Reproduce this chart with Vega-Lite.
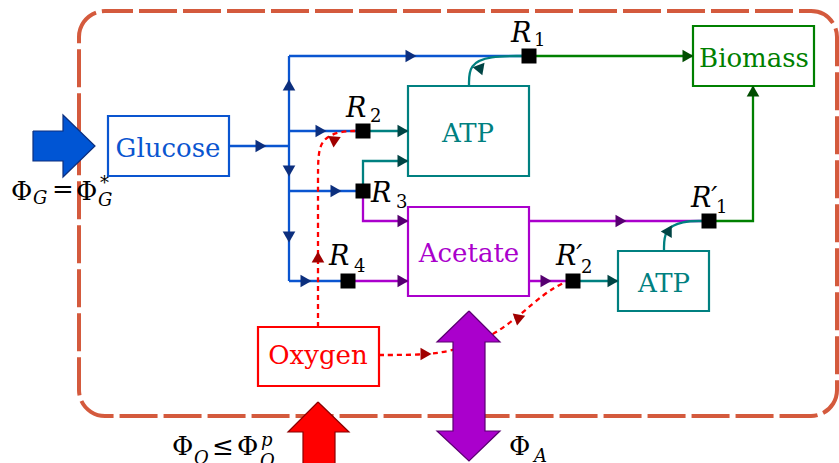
{
  "$schema": "https://vega.github.io/schema/vega-lite/v6.json",
  "width": 839,
  "height": 463,
  "autosize": {"type": "none"},
  "padding": 0,
  "background": "white",
  "config": {"view": {"stroke": null}},
  "datasets": {
    "border": [{"x": 79, "x2": 837, "y": 11, "y2": 416}],
    "boxes": [
      {"t": "Glucose", "c": "glucose", "x": 108, "x2": 229, "y": 116, "y2": 176, "cx": 168, "by": 157},
      {"t": "ATP", "c": "atp", "x": 408, "x2": 529, "y": 86, "y2": 176, "cx": 468, "by": 142},
      {"t": "Biomass", "c": "biomass", "x": 693, "x2": 814, "y": 26, "y2": 86, "cx": 754, "by": 67},
      {"t": "Acetate", "c": "acetate", "x": 408, "x2": 529, "y": 207, "y2": 296, "cx": 469, "by": 262},
      {"t": "ATP", "c": "atp", "x": 618, "x2": 709, "y": 251, "y2": 311, "cx": 664, "by": 292},
      {"t": "Oxygen", "c": "oxygen", "x": 258, "x2": 379, "y": 327, "y2": 386, "cx": 318, "by": 364}
    ],
    "lines": [
      {"id": "B1", "c": "glucose", "o": 1, "x": 229, "y": 146}, {"id": "B1", "c": "glucose", "o": 2, "x": 289, "y": 146},
      {"id": "B2", "c": "glucose", "o": 1, "x": 289, "y": 56}, {"id": "B2", "c": "glucose", "o": 2, "x": 289, "y": 281},
      {"id": "B3", "c": "glucose", "o": 1, "x": 289, "y": 56}, {"id": "B3", "c": "glucose", "o": 2, "x": 529, "y": 56},
      {"id": "B4", "c": "glucose", "o": 1, "x": 289, "y": 131}, {"id": "B4", "c": "glucose", "o": 2, "x": 363, "y": 131},
      {"id": "B5", "c": "glucose", "o": 1, "x": 289, "y": 191}, {"id": "B5", "c": "glucose", "o": 2, "x": 363, "y": 191},
      {"id": "B6", "c": "glucose", "o": 1, "x": 289, "y": 281}, {"id": "B6", "c": "glucose", "o": 2, "x": 348, "y": 281},
      {"id": "T1", "c": "atp", "o": 1, "x": 363, "y": 131}, {"id": "T1", "c": "atp", "o": 2, "x": 408, "y": 131},
      {"id": "T2", "c": "atp", "o": 1, "x": 363, "y": 191}, {"id": "T2", "c": "atp", "o": 2, "x": 363, "y": 161}, {"id": "T2", "c": "atp", "o": 3, "x": 408, "y": 161},
      {"id": "T4", "c": "atp", "o": 1, "x": 573, "y": 281}, {"id": "T4", "c": "atp", "o": 2, "x": 618, "y": 281},
      {"id": "G1", "c": "biomass", "o": 1, "x": 529, "y": 56}, {"id": "G1", "c": "biomass", "o": 2, "x": 693, "y": 56},
      {"id": "G2", "c": "biomass", "o": 1, "x": 709, "y": 221}, {"id": "G2", "c": "biomass", "o": 2, "x": 753, "y": 221}, {"id": "G2", "c": "biomass", "o": 3, "x": 753, "y": 86},
      {"id": "P1", "c": "acetate", "o": 1, "x": 363, "y": 191}, {"id": "P1", "c": "acetate", "o": 2, "x": 363, "y": 221}, {"id": "P1", "c": "acetate", "o": 3, "x": 408, "y": 221},
      {"id": "P2", "c": "acetate", "o": 1, "x": 348, "y": 281}, {"id": "P2", "c": "acetate", "o": 2, "x": 408, "y": 281},
      {"id": "P3", "c": "acetate", "o": 1, "x": 529, "y": 221}, {"id": "P3", "c": "acetate", "o": 2, "x": 709, "y": 221},
      {"id": "P4", "c": "acetate", "o": 1, "x": 529, "y": 281}, {"id": "P4", "c": "acetate", "o": 2, "x": 573, "y": 281}
    ],
    "curves": [
      {"id": "T3", "c": "atp", "o": 1, "x": 469, "y": 86}, {"id": "T3", "c": "atp", "o": 2, "x": 469, "y": 64}, {"id": "T3", "c": "atp", "o": 3, "x": 490, "y": 56}, {"id": "T3", "c": "atp", "o": 4, "x": 522, "y": 56},
      {"id": "T5", "c": "atp", "o": 1, "x": 664, "y": 251}, {"id": "T5", "c": "atp", "o": 2, "x": 664, "y": 229}, {"id": "T5", "c": "atp", "o": 3, "x": 683, "y": 221}, {"id": "T5", "c": "atp", "o": 4, "x": 702, "y": 221}
    ],
    "dotted": [
      {"id": "D1", "c": "oxygen", "o": 1, "x": 318, "y": 327}, {"id": "D1", "c": "oxygen", "o": 2, "x": 318, "y": 250}, {"id": "D1", "c": "oxygen", "o": 3, "x": 318, "y": 175}, {"id": "D1", "c": "oxygen", "o": 4, "x": 318, "y": 140}, {"id": "D1", "c": "oxygen", "o": 5, "x": 340, "y": 131}, {"id": "D1", "c": "oxygen", "o": 6, "x": 357, "y": 131},
      {"id": "D2", "c": "oxygen", "o": 1, "x": 379, "y": 355}, {"id": "D2", "c": "oxygen", "o": 2, "x": 420, "y": 355}, {"id": "D2", "c": "oxygen", "o": 3, "x": 450, "y": 352}, {"id": "D2", "c": "oxygen", "o": 4, "x": 490, "y": 338}, {"id": "D2", "c": "oxygen", "o": 5, "x": 520, "y": 315}, {"id": "D2", "c": "oxygen", "o": 6, "x": 545, "y": 293}, {"id": "D2", "c": "oxygen", "o": 7, "x": 563, "y": 283}, {"id": "D2", "c": "oxygen", "o": 8, "x": 567, "y": 282}
    ],
    "squares": [
      {"n": "R1", "x": 529, "y": 56}, {"n": "R2", "x": 363, "y": 131}, {"n": "R3", "x": 363, "y": 191},
      {"n": "R4", "x": 348, "y": 281}, {"n": "R1p", "x": 709, "y": 221}, {"n": "R2p", "x": 573, "y": 281}
    ],
    "heads": [
      {"x": 261, "y": 146, "a": 0, "c": "glucose_head"},
      {"x": 411, "y": 56, "a": 0, "c": "glucose_head"},
      {"x": 321, "y": 131, "a": 0, "c": "glucose_head"},
      {"x": 336, "y": 191, "a": 0, "c": "glucose_head"},
      {"x": 306, "y": 281, "a": 0, "c": "glucose_head"},
      {"x": 289, "y": 85, "a": 270, "c": "glucose_head"},
      {"x": 289, "y": 171, "a": 90, "c": "glucose_head"},
      {"x": 289, "y": 237, "a": 90, "c": "glucose_head"},
      {"x": 403, "y": 131, "a": 0, "c": "atp_head"},
      {"x": 403, "y": 161, "a": 0, "c": "atp_head"},
      {"x": 481, "y": 67, "a": 310, "c": "atp_head"},
      {"x": 613, "y": 281, "a": 0, "c": "atp_head"},
      {"x": 669, "y": 230, "a": 300, "c": "atp_head"},
      {"x": 688, "y": 56, "a": 0, "c": "biomass_head"},
      {"x": 753, "y": 91, "a": 270, "c": "biomass_head"},
      {"x": 403, "y": 221, "a": 0, "c": "acetate_head"},
      {"x": 403, "y": 281, "a": 0, "c": "acetate_head"},
      {"x": 621, "y": 221, "a": 0, "c": "acetate_head"},
      {"x": 546, "y": 281, "a": 0, "c": "acetate_head"},
      {"x": 318, "y": 257, "a": 270, "c": "oxygen_head"},
      {"x": 334, "y": 142, "a": 95, "c": "oxygen_head"},
      {"x": 426, "y": 354, "a": 0, "c": "oxygen_head"},
      {"x": 518, "y": 320, "a": 100, "c": "oxygen_head"}
    ],
    "math": [
      {"role": "R", "t": "R", "x": 511, "y": 42},
      {"role": "R", "t": "R", "x": 346, "y": 117},
      {"role": "R", "t": "R", "x": 371, "y": 202},
      {"role": "R", "t": "R", "x": 329, "y": 265},
      {"role": "R", "t": "R′", "x": 691, "y": 207},
      {"role": "R", "t": "R′", "x": 556, "y": 265},
      {"role": "idx", "t": "1", "x": 534, "y": 46},
      {"role": "idx", "t": "2", "x": 370, "y": 122},
      {"role": "idx", "t": "3", "x": 396, "y": 208},
      {"role": "idx", "t": "4", "x": 354, "y": 272},
      {"role": "idx", "t": "1", "x": 716, "y": 213},
      {"role": "idx", "t": "2", "x": 581, "y": 273},
      {"role": "sym", "t": "Φ", "x": 11, "y": 200},
      {"role": "sym", "t": "=", "x": 52, "y": 198},
      {"role": "sym", "t": "Φ", "x": 76, "y": 200},
      {"role": "sym", "t": "Φ", "x": 172, "y": 455},
      {"role": "sym", "t": "≤", "x": 212, "y": 455},
      {"role": "sym", "t": "Φ", "x": 237, "y": 455},
      {"role": "sym", "t": "Φ", "x": 509, "y": 455},
      {"role": "var", "t": "G", "x": 33, "y": 204},
      {"role": "var", "t": "*", "x": 100, "y": 189},
      {"role": "var", "t": "G", "x": 98, "y": 206},
      {"role": "var", "t": "O", "x": 194, "y": 464},
      {"role": "var", "t": "p", "x": 261, "y": 446},
      {"role": "var", "t": "O", "x": 260, "y": 467},
      {"role": "var", "t": "A", "x": 534, "y": 462}
    ],
    "bigarrows": [
      {"id": "glucose_in", "o": 1, "x": 33, "y": 131}, {"id": "glucose_in", "o": 2, "x": 63, "y": 131}, {"id": "glucose_in", "o": 3, "x": 63, "y": 115}, {"id": "glucose_in", "o": 4, "x": 95, "y": 146}, {"id": "glucose_in", "o": 5, "x": 63, "y": 177}, {"id": "glucose_in", "o": 6, "x": 63, "y": 161}, {"id": "glucose_in", "o": 7, "x": 33, "y": 161}, {"id": "glucose_in", "o": 8, "x": 33, "y": 131},
      {"id": "oxygen_in", "o": 1, "x": 318, "y": 402}, {"id": "oxygen_in", "o": 2, "x": 349, "y": 432}, {"id": "oxygen_in", "o": 3, "x": 335, "y": 432}, {"id": "oxygen_in", "o": 4, "x": 335, "y": 468}, {"id": "oxygen_in", "o": 5, "x": 303, "y": 468}, {"id": "oxygen_in", "o": 6, "x": 303, "y": 432}, {"id": "oxygen_in", "o": 7, "x": 288, "y": 432}, {"id": "oxygen_in", "o": 8, "x": 318, "y": 402},
      {"id": "acetate_ex", "o": 1, "x": 469, "y": 311}, {"id": "acetate_ex", "o": 2, "x": 500, "y": 342}, {"id": "acetate_ex", "o": 3, "x": 485, "y": 342}, {"id": "acetate_ex", "o": 4, "x": 485, "y": 431}, {"id": "acetate_ex", "o": 5, "x": 500, "y": 431}, {"id": "acetate_ex", "o": 6, "x": 469, "y": 461}, {"id": "acetate_ex", "o": 7, "x": 437, "y": 431}, {"id": "acetate_ex", "o": 8, "x": 453, "y": 431}, {"id": "acetate_ex", "o": 9, "x": 453, "y": 342}, {"id": "acetate_ex", "o": 10, "x": 437, "y": 342}, {"id": "acetate_ex", "o": 11, "x": 469, "y": 311}
    ]
  },
  "encoding": {
    "x": {"field": "x", "type": "quantitative", "scale": {"domain": [0, 839], "nice": false, "zero": false}, "axis": null},
    "y": {"field": "y", "type": "quantitative", "scale": {"domain": [0, 463], "nice": false, "zero": false, "reverse": true}, "axis": null}
  },
  "layer": [
    {
      "data": {"name": "border"},
      "mark": {"type": "rect", "filled": false, "stroke": "#d45a3d", "strokeWidth": 4, "strokeDash": [38, 6], "strokeDashOffset": 10, "cornerRadius": 26},
      "encoding": {
        "x2": {"field": "x2"},
        "y2": {"field": "y2"}
      }
    },
    {
      "data": {"name": "lines"},
      "mark": {"type": "line", "strokeWidth": 2.3, "interpolate": "linear"},
      "encoding": {
        "detail": {"field": "id"},
        "order": {"field": "o", "type": "quantitative"},
        "color": {"field": "c", "type": "nominal", "legend": null, "scale": {"domain": ["glucose", "glucose_head", "atp", "atp_head", "biomass", "biomass_head", "acetate", "acetate_head", "oxygen", "oxygen_head"], "range": ["#0a55d0", "#0c2f7e", "#008080", "#004444", "#008000", "#004d00", "#aa00cc", "#560070", "#ff0000", "#a00000"]}}
      }
    },
    {
      "data": {"name": "curves"},
      "mark": {"type": "line", "strokeWidth": 2.3, "interpolate": "basis"},
      "encoding": {
        "detail": {"field": "id"},
        "order": {"field": "o", "type": "quantitative"},
        "color": {"field": "c", "type": "nominal", "legend": null}
      }
    },
    {
      "data": {"name": "dotted"},
      "mark": {"type": "line", "strokeWidth": 2.3, "interpolate": "basis", "strokeDash": [5, 4]},
      "encoding": {
        "detail": {"field": "id"},
        "order": {"field": "o", "type": "quantitative"},
        "color": {"field": "c", "type": "nominal", "legend": null}
      }
    },
    {
      "data": {"name": "boxes"},
      "mark": {"type": "rect", "filled": false, "strokeWidth": 2.2},
      "encoding": {
        "x2": {"field": "x2"},
        "y2": {"field": "y2"},
        "color": {"field": "c", "type": "nominal", "legend": null}
      }
    },
    {
      "data": {"name": "boxes"},
      "mark": {"type": "text", "font": "DejaVu Serif", "fontSize": 26, "align": "center", "baseline": "alphabetic"},
      "encoding": {
        "x": {"field": "cx", "type": "quantitative"},
        "y": {"field": "by", "type": "quantitative"},
        "text": {"field": "t"},
        "color": {"field": "c", "type": "nominal", "legend": null}
      }
    },
    {
      "data": {"name": "squares"},
      "mark": {"type": "point", "shape": "square", "filled": true, "size": 225, "color": "black", "opacity": 1}
    },
    {
      "data": {"name": "heads"},
      "mark": {"type": "point", "shape": "triangle-right", "filled": true, "size": 160, "opacity": 1},
      "encoding": {
        "angle": {"field": "a", "type": "quantitative", "scale": null},
        "color": {"field": "c", "type": "nominal", "legend": null}
      }
    },
    {
      "data": {"name": "math"},
      "transform": [{"filter": "datum.role == 'R'"}],
      "mark": {"type": "text", "font": "DejaVu Serif", "fontStyle": "italic", "fontSize": 27, "align": "left", "baseline": "alphabetic", "color": "black"},
      "encoding": {"text": {"field": "t"}}
    },
    {
      "data": {"name": "math"},
      "transform": [{"filter": "datum.role == 'idx'"}],
      "mark": {"type": "text", "font": "DejaVu Serif", "fontSize": 18, "align": "left", "baseline": "alphabetic", "color": "black"},
      "encoding": {"text": {"field": "t"}}
    },
    {
      "data": {"name": "math"},
      "transform": [{"filter": "datum.role == 'sym'"}],
      "mark": {"type": "text", "font": "DejaVu Serif", "fontSize": 26, "align": "left", "baseline": "alphabetic", "color": "black"},
      "encoding": {"text": {"field": "t"}}
    },
    {
      "data": {"name": "math"},
      "transform": [{"filter": "datum.role == 'var'"}],
      "mark": {"type": "text", "font": "DejaVu Serif", "fontStyle": "italic", "fontSize": 18, "align": "left", "baseline": "alphabetic", "color": "black"},
      "encoding": {"text": {"field": "t"}}
    },
    {
      "data": {"name": "bigarrows"},
      "transform": [{"filter": "datum.id == 'glucose_in'"}],
      "mark": {"type": "line", "fill": "#0055d4", "stroke": "#0c2f7e", "strokeWidth": 1.2, "interpolate": "linear"},
      "encoding": {"order": {"field": "o", "type": "quantitative"}}
    },
    {
      "data": {"name": "bigarrows"},
      "transform": [{"filter": "datum.id == 'oxygen_in'"}],
      "mark": {"type": "line", "fill": "#ff0000", "stroke": "#8a0000", "strokeWidth": 1.2, "interpolate": "linear"},
      "encoding": {"order": {"field": "o", "type": "quantitative"}}
    },
    {
      "data": {"name": "bigarrows"},
      "transform": [{"filter": "datum.id == 'acetate_ex'"}],
      "mark": {"type": "line", "fill": "#aa00cc", "stroke": "#5a0070", "strokeWidth": 1.2, "interpolate": "linear"},
      "encoding": {"order": {"field": "o", "type": "quantitative"}}
    }
  ]
}
